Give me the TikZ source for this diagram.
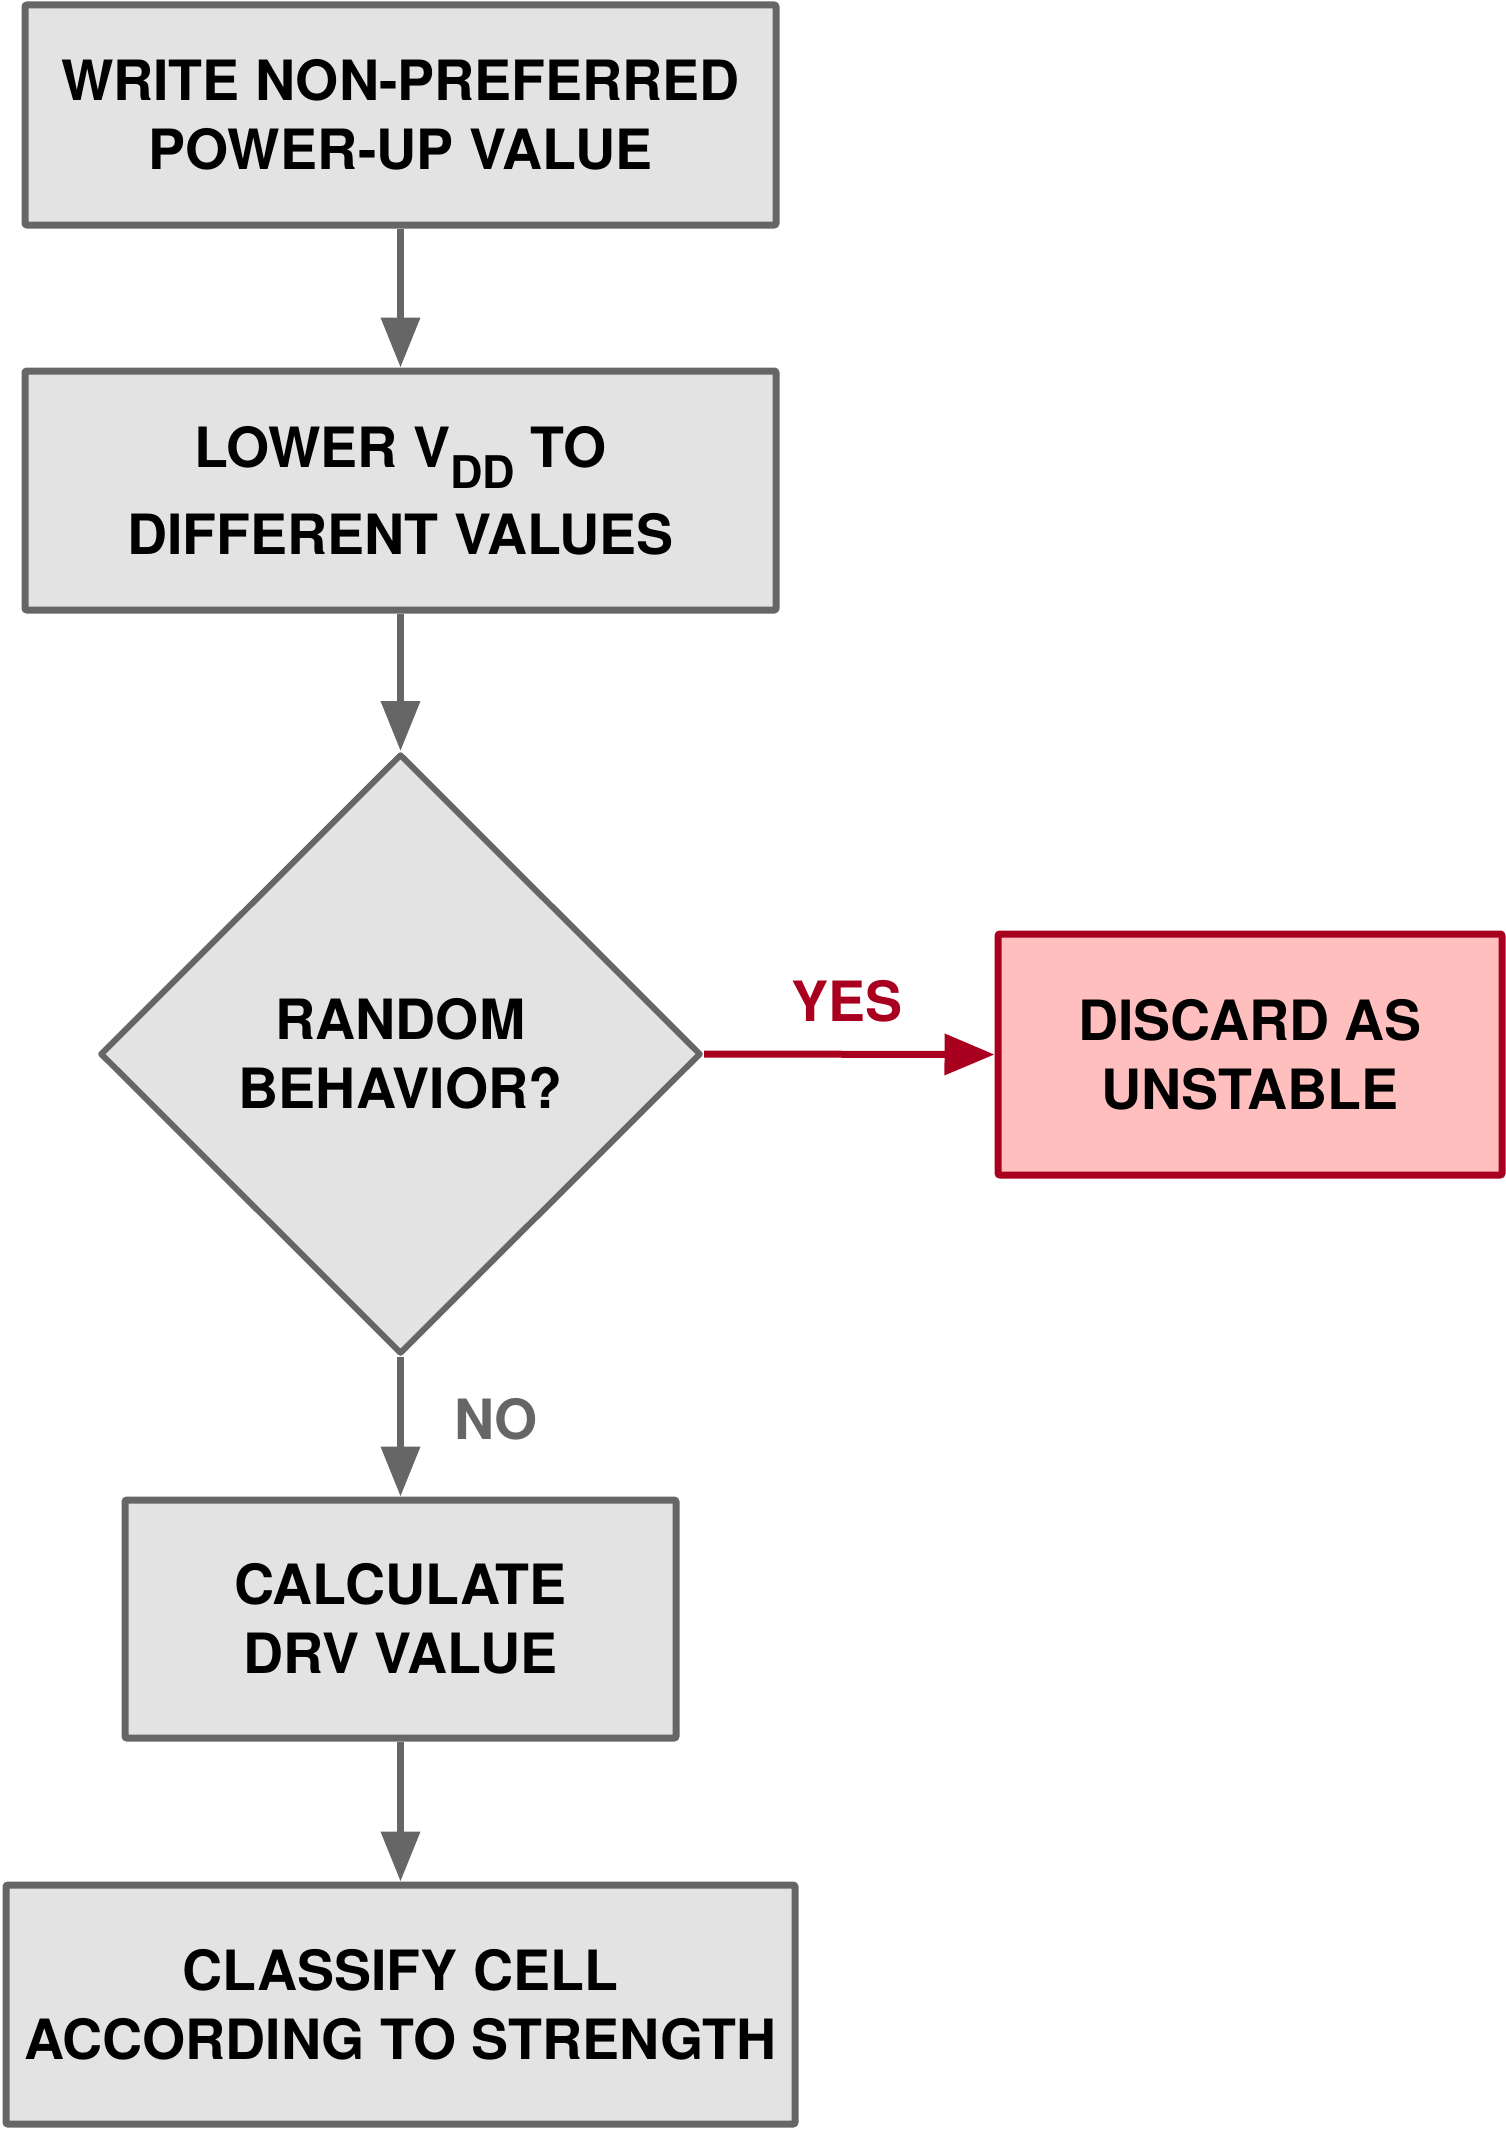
\documentclass[tikz,border=0pt]{standalone}
\usepackage{fontspec}
\setmainfont{TeX Gyre Heros}
\usetikzlibrary{shapes.geometric,arrows.meta}
\definecolor{edgegray}{HTML}{666666}
\definecolor{boxfill}{HTML}{E3E3E3}
\definecolor{redline}{HTML}{AA0020}
\definecolor{pinkfill}{HTML}{FFBFBF}
\begin{document}
\begin{tikzpicture}[x=1pt,y=-1pt,
  every node/.style={font=\fontsize{55.5}{69}\selectfont\bfseries, align=center},
  stepbox/.style={draw=edgegray, fill=boxfill, line width=7pt, rounded corners=2pt, inner sep=0pt},
  redbox/.style={draw=redline, fill=pinkfill, line width=7pt, rounded corners=2pt, inner sep=0pt},
  decision/.style={shape=diamond, draw=edgegray, fill=boxfill, line width=6pt, inner sep=0pt, line join=round},
  flow/.style={draw=edgegray, line width=7pt, -{Triangle[length=50pt,width=38pt]}},
  redflow/.style={draw=redline, line width=7pt, -{Triangle[length=50pt,width=40pt]}},
  lbl/.style={font=\fontsize{55.5}{69}\selectfont\bfseries}
]
\useasboundingbox (0,0) rectangle (1506,2130);
\node[stepbox, minimum width=751pt, minimum height=220pt] (write) at (400.5,115) {WRITE NON-PREFERRED\\POWER-UP VALUE};
\node[stepbox, minimum width=751pt, minimum height=239pt] (lower) at (400.5,490.5) {LOWER V\raisebox{-21pt}{\fontsize{45}{45}\selectfont DD} TO\\[18pt]DIFFERENT VALUES};
\node[decision, minimum width=601pt, minimum height=600pt] (random) at (400.5,1054) {RANDOM\\BEHAVIOR?};
\node[redbox, minimum width=504pt, minimum height=241pt] (discard) at (1250,1054.5) {DISCARD AS\\UNSTABLE};
\node[stepbox, minimum width=551pt, minimum height=238pt] (calc) at (400.5,1619) {CALCULATE\\DRV VALUE};
\node[stepbox, minimum width=789pt, minimum height=239pt] (classify) at (400.5,2004.5) {CLASSIFY CELL\\ACCORDING TO STRENGTH};
\draw[flow] (write.south) -- (lower.north);
\draw[flow] (lower.south) -- (random.north);
\draw[redflow] (random.east) -- (discard.west);
\draw[flow] (random.south) -- (calc.north);
\draw[flow] (calc.south) -- (classify.north);
\node[lbl, text=redline] (yes) at (847,1001) {YES};
\node[lbl, text=edgegray] (no) at (496,1419) {NO};
\end{tikzpicture}
\end{document}
